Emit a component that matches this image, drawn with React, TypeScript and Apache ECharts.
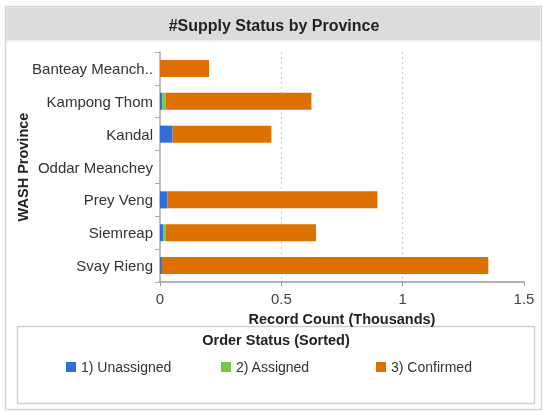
import React, { useEffect, useRef } from "react";
import * as echarts from "echarts";

const provinces = [
  "Banteay Meanchey",
  "Kampong Thom",
  "Kandal",
  "Oddar Meanchey",
  "Prey Veng",
  "Siemreap",
  "Svay Rieng",
];
const unassigned = [0, 0.009, 0.052, 0, 0.03, 0.014, 0.008];
const assigned = [0, 0.014, 0, 0, 0, 0.009, 0];
const confirmed = [0.202, 0.601, 0.407, 0, 0.866, 0.62, 1.345];
const seriesNames = ["1) Unassigned", "2) Assigned", "3) Confirmed"];
const seriesColors = ["#2d6fd6", "#78c846", "#dc7000"];
const xTicks = [0, 0.5, 1, 1.5];

const FONT = "'Liberation Sans', Arial, sans-serif";

export default function App() {
  const ref = useRef<HTMLDivElement>(null);
  useEffect(() => {
    if (!ref.current) return;
    const chart = echarts.init(ref.current, null, { renderer: "svg" });
    const values = [unassigned, assigned, confirmed];
    const legendLefts = [66, 221, 376];
    chart.setOption({
      animation: false,
      textStyle: { fontFamily: FONT },
      graphic: [
        {
          type: "rect",
          shape: { x: 5.5, y: 6.5, width: 536, height: 403 },
          style: { fill: "#fff", stroke: "#d6d6d6", lineWidth: 1.5 },
          z: -10,
        },
        {
          type: "rect",
          shape: { x: 6.5, y: 7.5, width: 534, height: 33 },
          style: { fill: "#dcdcdc", stroke: "none" },
          z: -9,
        },
        {
          type: "line",
          shape: { x1: 6.5, y1: 41, x2: 540.5, y2: 41 },
          style: { stroke: "#e8e8e8", lineWidth: 1 },
          z: -9,
        },
        {
          type: "text",
          x: 274,
          y: 25,
          style: {
            text: "#Supply Status by Province",
            font: `bold 16px ${FONT}`,
            fill: "#222",
            align: "center",
            verticalAlign: "middle",
          },
        },
        {
          type: "text",
          x: 23,
          y: 167,
          rotation: Math.PI / 2,
          style: {
            text: "WASH Province",
            font: `bold 14.5px ${FONT}`,
            fill: "#222",
            align: "center",
            verticalAlign: "middle",
          },
        },
        {
          type: "rect",
          shape: { x: 17.5, y: 326.5, width: 517, height: 77 },
          style: { fill: "none", stroke: "#d0d0d0", lineWidth: 1.5 },
          z: -5,
        },
        {
          type: "text",
          x: 276,
          y: 340,
          style: {
            text: "Order Status (Sorted)",
            font: `bold 14.5px ${FONT}`,
            fill: "#222",
            align: "center",
            verticalAlign: "middle",
          },
        },
      ],
      legend: seriesNames.map((n, i) => ({
        data: [n],
        left: legendLefts[i],
        top: 360,
        padding: 0,
        itemWidth: 10,
        itemHeight: 10,
        icon: "rect",
        selectedMode: false,
        textStyle: { fontSize: 14, color: "#333", fontFamily: FONT },
      })),
      grid: {
        left: 160,
        right: 19,
        top: 52,
        bottom: 129,
        containLabel: false,
        outerBoundsMode: "none",
      },
      xAxis: {
        type: "value",
        min: 0,
        max: 1.5,
        interval: 0.5,
        name: "Record Count (Thousands)",
        nameLocation: "middle",
        nameGap: 29,
        nameTextStyle: { fontSize: 14.5, fontWeight: "bold", color: "#222" },
        axisLine: { show: true, lineStyle: { color: "#999", width: 1.5 } },
        axisTick: { show: true, length: 4, lineStyle: { color: "#999" } },
        axisLabel: {
          fontSize: 15,
          color: "#444",
          margin: 9,
          formatter: (v: number) => (xTicks.includes(v) ? String(v) : ""),
        },
        splitLine: {
          show: true,
          showMinLine: false,
          showMaxLine: false,
          lineStyle: { color: "#c8c8c8", type: [2, 3], width: 1 },
        },
      },
      yAxis: {
        type: "category",
        data: provinces,
        inverse: true,
        axisLine: { show: true, lineStyle: { color: "#aaa", width: 1.5 } },
        axisTick: { show: true, length: 5, lineStyle: { color: "#aaa" } },
        axisLabel: {
          fontSize: 15,
          color: "#333",
          margin: 7,
          width: 124,
          overflow: "truncate",
          ellipsis: "..",
        },
        splitLine: { show: false },
      },
      series: seriesNames.map((n, i) => ({
        name: n,
        type: "bar",
        stack: "total",
        barWidth: 17,
        data: values[i],
        itemStyle: { color: seriesColors[i] },
      })),
    });
    return () => chart.dispose();
  }, []);
  return (
    <div
      ref={ref}
      style={{ position: "fixed", left: 0, top: 0, width: 543, height: 411 }}
    />
  );
}
